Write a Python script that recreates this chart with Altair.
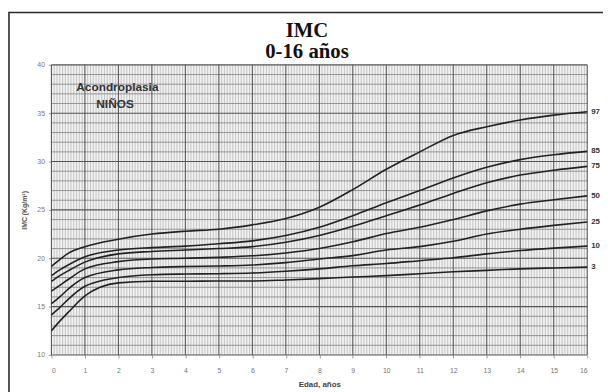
import altair as alt
import pandas as pd

# ---- data ----
ages = [0, 0.25, 0.5, 1, 2, 3, 4, 5, 6, 7, 8, 9, 10, 11, 12, 13, 14, 15, 16]
p97 = [19.15, 19.85, 20.5, 21.2, 21.97, 22.5, 22.8, 23.0, 23.45, 24.1, 25.27, 27.1, 29.2, 31.0, 32.7, 33.6, 34.3, 34.8, 35.15]
p85 = [18.2, 18.8, 19.3, 20.15, 20.85, 21.1, 21.25, 21.5, 21.8, 22.35, 23.2, 24.4, 25.75, 27.0, 28.3, 29.4, 30.2, 30.7, 31.05]
p75 = [17.6, 18.2, 18.7, 19.6, 20.45, 20.7, 20.85, 21.0, 21.2, 21.65, 22.35, 23.3, 24.4, 25.5, 26.7, 27.8, 28.6, 29.1, 29.5]
p50 = [16.6, 17.2, 17.8, 18.9, 19.65, 19.93, 20.0, 20.1, 20.25, 20.55, 21.0, 21.7, 22.55, 23.2, 24.0, 24.9, 25.6, 26.05, 26.45]
p25 = [15.3, 16.0, 16.8, 18.0, 18.8, 19.05, 19.15, 19.2, 19.3, 19.55, 19.93, 20.27, 20.85, 21.2, 21.75, 22.5, 23.0, 23.4, 23.75]
p10 = [14.15, 14.9, 15.75, 17.1, 18.0, 18.3, 18.37, 18.4, 18.47, 18.65, 18.9, 19.22, 19.45, 19.75, 20.05, 20.45, 20.8, 21.05, 21.25]
p3 = [12.5, 13.5, 14.4, 16.1, 17.45, 17.62, 17.62, 17.65, 17.65, 17.75, 17.89, 18.06, 18.2, 18.4, 18.6, 18.75, 18.9, 19.0, 19.08]

percentiles = ["97", "85", "75", "50", "25", "10", "3"]
series = [p97, p85, p75, p50, p25, p10, p3]

x_ticks = list(range(0, 17))
y_ticks = [10, 15, 20, 25, 30, 35, 40]

title_lines = ["IMC", "0-16 años"]

note_lines = ["Acondroplasia", "NIÑOS"]
note_x = [1.97, 1.9]
note_y = [37.7, 35.9]

# ---- tables ----
rows = []
for p, vals in zip(percentiles, series):
    for a, v in zip(ages, vals):
        rows.append({"edad": a, "imc": v, "p": p})
curves = pd.DataFrame(rows)
ends = pd.DataFrame({"edad": [16] * len(percentiles),
                     "imc": [s[-1] for s in series],
                     "p": percentiles})
notes = pd.DataFrame({"edad": note_x, "imc": note_y, "t": note_lines})

vminor = pd.DataFrame({"edad": [i / 12 for i in range(0, 16 * 12 + 1) if i % 12 != 0]})
vmajor = pd.DataFrame({"edad": x_ticks})
hminor = pd.DataFrame({"imc": [v for v in range(10, 41) if v % 5 != 0]})
hmajor = pd.DataFrame({"imc": y_ticks})

xs = alt.Scale(domain=[0, 16], nice=False)
ys = alt.Scale(domain=[10, 40], nice=False)

xaxis = alt.Axis(values=x_ticks, grid=False, domain=False, tickSize=3, tickColor="#999",
                 labelFontSize=7, labelColor="#777", labelPadding=9, labelFont="Liberation Sans",
                 title="Edad, años", titleFontSize=8, titleFont="Liberation Sans",
                 titleFontWeight="bold", titleColor="#444", titlePadding=7)
yaxis = alt.Axis(values=y_ticks, grid=False, domain=False, tickSize=3, tickColor="#999",
                 labelFontSize=7, labelColor="#777", labelPadding=4, labelFont="Liberation Sans",
                 title="IMC (Kg/m²)", titleFontSize=7, titleFont="Liberation Sans",
                 titleFontWeight="bold", titleColor="#555", titlePadding=9)

X = alt.X("edad:Q", scale=xs, axis=xaxis)
Y = alt.Y("imc:Q", scale=ys, axis=yaxis)

frame = alt.Chart(pd.DataFrame({"k": [0]})).mark_rect(
    fill=None, stroke="#2a2a2a", strokeWidth=1.6
).encode(x=alt.value(-43), x2=alt.value(700), y=alt.value(-53), y2=alt.value(400))

title1 = alt.Chart(pd.DataFrame({"t": [title_lines[0]]})).mark_text(
    font="Liberation Serif", fontSize=21, fontWeight="bold", color="#111",
    align="center", baseline="alphabetic"
).encode(x=alt.value(259), y=alt.value(-28), text="t:N")
title2 = alt.Chart(pd.DataFrame({"t": [title_lines[1]]})).mark_text(
    font="Liberation Serif", fontSize=21, fontWeight="bold", color="#111",
    align="center", baseline="alphabetic"
).encode(x=alt.value(259), y=alt.value(-7), text="t:N")

vmin = alt.Chart(vminor).mark_rule(color="#b8b8b8", strokeWidth=0.8).encode(x=X)
hmin = alt.Chart(hminor).mark_rule(color="#8a8a8a", strokeWidth=0.9).encode(y=Y)
vmaj = alt.Chart(vmajor).mark_rule(color="#555", strokeWidth=1.1).encode(x=X)
hmaj = alt.Chart(hmajor).mark_rule(color="#555", strokeWidth=1.1).encode(y=Y)

lines = alt.Chart(curves).mark_line(color="#222", strokeWidth=1.6, interpolate="monotone").encode(
    x=X, y=Y, detail="p:N")

labels = alt.Chart(ends).mark_text(align="left", dx=4, fontSize=8, fontWeight="bold",
                                   font="Liberation Sans", color="#333").encode(
    x=X, y=Y, text="p:N")

note = alt.Chart(notes).mark_text(fontSize=12, fontWeight="bold", font="Liberation Sans",
                                  color="#333").encode(
    x=X, y=Y, text="t:N")

chart = alt.layer(frame, title1, title2, vmin, hmin, vmaj, hmaj, lines, labels, note).properties(
    width=543, height=294,
    autosize=alt.AutoSizeParams(type="none"),
    padding={"left": 44, "top": 55, "right": 16, "bottom": 40},
).configure_view(stroke=None, fill="#f2f2f2")

chart.save("out.html", embed_options={"renderer": "svg", "actions": False})
